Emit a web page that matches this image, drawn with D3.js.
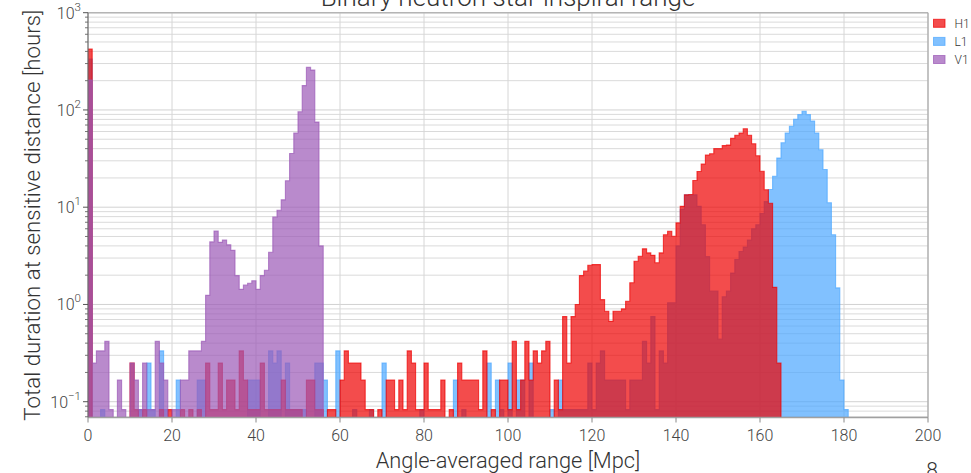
<!DOCTYPE html>
<html>
<head>
<meta charset="utf-8">
<script src="https://cdn.jsdelivr.net/npm/d3@7/dist/d3.min.js"></script>
<style>
  html, body { margin: 0; padding: 0; background: #fff; }
  svg { display: block; }
  text { font-family: Roboto, "Open Sans", "DejaVu Sans", sans-serif; font-weight: 300; }
</style>
</head>
<body>
<svg id="chart" width="971" height="473"></svg>
<script>
// Histogram bins are 1 Mpc wide; value i covers [i, i+1) Mpc. Values in hours.
const binStart = 0;
const binWidth = 1;

const h1Hours = [
  423,0,0,0,0,0,0,0,0,0,
  0.25,0.083,0,0.083,0,0,0,0.083,0,0.083,
  0,0,0.083,0,0.083,0,0.083,0,0.25,0.083,
  0.083,0.25,0.083,0.167,0.167,0.083,0.333,0.167,0.083,0.083,
  0.083,0.25,0.083,0.083,0.083,0.083,0.167,0.083,0.083,0.083,
  0.083,0,0.167,0.167,0.083,0.083,0,0.083,0.083,0,
  0.167,0.333,0.25,0.25,0.25,0.167,0.083,0.083,0,0.083,
  0,0.167,0.167,0.083,0.167,0.083,0.333,0.25,0.083,0.083,
  0.25,0.083,0.083,0.083,0.167,0,0.083,0,0.25,0.167,
  0.167,0.167,0.167,0.083,0.333,0,0.083,0,0.167,0.167,
  0.083,0.417,0.083,0.167,0.417,0.167,0.333,0.25,0.333,0.417,
  0,0.167,0.083,0.75,0.25,0.75,1.0,1.98,2.2,2.53,
  2.57,2.57,1.12,0.85,0.67,0.85,0.85,0.9,1.08,1.67,
  2.78,3.13,3.73,3.39,3.2,2.68,3.39,5.2,5.66,5.03,
  6.9,10.2,13.4,13.5,18.8,23.3,27.8,34.4,35.5,40,
  40,43,43.5,51,55,58,64,55,45,33.8,
  23.4,15.1,11,1.5,0.25,0,0,0,0,0,
  0,0,0,0,0,0,0,0,0,0,
  0
];

const l1Hours = [
  333,0,0,0.083,0,0,0,0,0,0,
  0,0,0.083,0,0.25,0.083,0,0.333,0.083,0,
  0,0.167,0,0,0,0,0.167,0.167,0,0,
  0,0,0,0,0,0,0,0,0.167,0.167,
  0.167,0,0,0.333,0.25,0.333,0,0.25,0.083,0.083,
  0.083,0.083,0,0,0.25,0.25,0.167,0,0,0.333,
  0,0,0,0.083,0,0,0,0.083,0,0,
  0.25,0,0,0,0,0,0,0,0,0.083,
  0,0,0,0,0,0,0,0.167,0,0.083,
  0,0,0,0,0,0.25,0,0.167,0.083,0,
  0.25,0,0.167,0.167,0,0.25,0,0,0,0,
  0.083,0,0.167,0.083,0.083,0.083,0.083,0.083,0.083,0.25,
  0.083,0.25,0.333,0.167,0.167,0.167,0.167,0.167,0.083,0.167,
  0.167,0.167,0.417,0.25,0.75,0.083,0.333,0.25,1.04,1.04,
  4.0,9.5,13.4,13.4,13.4,10.2,6.6,3.1,1.37,1.37,
  0.44,1.2,1.37,2.1,2.9,3.5,3.9,4.6,6.0,6.6,
  8.6,11.4,15.2,20.8,32,46,58,68,80,89.5,
  97,89.5,77,58,39,24.4,11.1,5.2,1.48,0.167,
  0.083
];

const v1Hours = [
  203,0.25,0.333,0.333,0.417,0.083,0,0.167,0.083,0,
  0.25,0.167,0.083,0.25,0.083,0.083,0.417,0.25,0.167,0,
  0.083,0.083,0.167,0.167,0.333,0.333,0.333,0.417,1.24,4.4,
  5.7,4.35,4.6,4.1,3.6,1.98,1.43,1.58,1.65,1.75,
  1.43,1.98,2.25,3.44,7.9,9.3,11.9,18.7,35.6,58,
  96,178,274,257,75,4.0
];

const detectors = ["H1", "L1", "V1"];
const detectorColors = { H1: "#ee0000", L1: "#4ba6ff", V1: "#9b59b6" };
const seriesByDetector = { H1: h1Hours, L1: l1Hours, V1: v1Hours };
const drawOrder = ["L1", "H1", "V1"];

const xTicks = [0, 20, 40, 60, 80, 100, 120, 140, 160, 180, 200];
const yTicks = [0.1, 1, 10, 100, 1000];
const yTickExponents = ["\u22121", "0", "1", "2", "3"];

const titleText = "Binary neutron star inspiral range";
const xLabel = "Angle-averaged range [Mpc]";
const yLabel = "Total duration at sensitive distance [hours]";
const pageNumber = "8";

// ---- layout ----
const plot = { left: 88, right: 928, top: 12.7, bottom: 417.5 };
const fillAlpha = 0.7;

const svg = d3.select("#chart");

const x = d3.scaleLinear().domain([0, 200]).range([plot.left, plot.right]);
const y = d3.scaleLog().domain([0.0688, 1000]).range([plot.bottom, plot.top]);

// minor log ticks (2..9 x 10^n) inside the domain
const minorTicks = [];
for (let e = -2; e <= 2; e++) {
  for (let m = 2; m <= 9; m++) {
    const v = m * Math.pow(10, e);
    if (v >= y.domain()[0] && v <= y.domain()[1]) minorTicks.push(v);
  }
}

svg.append("defs").append("clipPath").attr("id", "plotClip")
  .append("rect")
  .attr("x", plot.left).attr("y", plot.top)
  .attr("width", plot.right - plot.left).attr("height", plot.bottom - plot.top);

// ---- grid ----
const grid = svg.append("g").attr("stroke", "#dadada").attr("stroke-width", 1).attr("fill", "none");
grid.selectAll(".hmin").data(minorTicks).join("line")
  .attr("x1", plot.left).attr("x2", plot.right)
  .attr("y1", d => y(d)).attr("y2", d => y(d));
grid.selectAll(".hmaj").data(yTicks).join("line")
  .attr("x1", plot.left).attr("x2", plot.right)
  .attr("y1", d => y(d)).attr("y2", d => y(d))
  .attr("stroke", "#d2d2d2");
grid.selectAll(".vmaj").data(xTicks).join("line")
  .attr("y1", plot.top).attr("y2", plot.bottom)
  .attr("x1", d => x(d)).attr("x2", d => x(d))
  .attr("stroke", "#d6d6d6");

// ---- histograms (step-filled) ----
function stepPoints(values) {
  const floorY = plot.bottom + 30;
  const pts = [[x(binStart), floorY]];
  values.forEach((v, i) => {
    const x0 = x(binStart + i * binWidth);
    const x1 = x(binStart + (i + 1) * binWidth);
    const yy = v > 0 ? y(v) : floorY;
    pts.push([x0, yy], [x1, yy]);
  });
  pts.push([x(binStart + values.length * binWidth), floorY]);
  return pts;
}
const line = d3.line();

const hist = svg.append("g").attr("clip-path", "url(#plotClip)");
drawOrder.forEach(det => {
  const c = detectorColors[det];
  hist.append("path")
    .attr("d", line(stepPoints(seriesByDetector[det])) + "Z")
    .attr("fill", c).attr("fill-opacity", fillAlpha)
    .attr("stroke", c).attr("stroke-opacity", fillAlpha)
    .attr("stroke-width", 1.1)
    .attr("stroke-linejoin", "miter");
});

// ---- spines ----
const spines = svg.append("g").attr("fill", "none");
spines.append("line").attr("x1", plot.left).attr("x2", plot.right)
  .attr("y1", plot.top).attr("y2", plot.top).attr("stroke", "#b5b5b5").attr("stroke-width", 1.5);
spines.append("line").attr("x1", plot.right).attr("x2", plot.right)
  .attr("y1", plot.top).attr("y2", plot.bottom).attr("stroke", "#a8a8a8").attr("stroke-width", 1.2);
spines.append("line").attr("x1", plot.left).attr("x2", plot.right)
  .attr("y1", plot.bottom).attr("y2", plot.bottom).attr("stroke", "#a0a0a0").attr("stroke-width", 1.3);
spines.append("line").attr("x1", plot.left).attr("x2", plot.left)
  .attr("y1", plot.top).attr("y2", plot.bottom).attr("stroke", "#707070").attr("stroke-width", 1.2);

// ---- x axis ----
const xAxis = svg.append("g");
xAxis.selectAll("line").data(xTicks).join("line")
  .attr("x1", d => x(d)).attr("x2", d => x(d))
  .attr("y1", plot.bottom).attr("y2", plot.bottom + 5)
  .attr("stroke", "#888").attr("stroke-width", 1);
xAxis.selectAll("text").data(xTicks).join("text")
  .attr("x", d => x(d)).attr("y", 441)
  .attr("text-anchor", "middle")
  .attr("font-size", 16).attr("fill", "#444")
  .text(d => d);

// ---- y axis ----
const yAxis = svg.append("g");
yAxis.selectAll(".minor").data(minorTicks).join("line")
  .attr("x1", plot.left - 3).attr("x2", plot.left)
  .attr("y1", d => y(d)).attr("y2", d => y(d))
  .attr("stroke", "#666").attr("stroke-width", 0.9);
yAxis.selectAll(".major").data(yTicks).join("line")
  .attr("x1", plot.left - 5).attr("x2", plot.left)
  .attr("y1", d => y(d)).attr("y2", d => y(d))
  .attr("stroke", "#555").attr("stroke-width", 1);
const yLab = yAxis.selectAll("text").data(yTicks).join("text")
  .attr("x", plot.left - 7).attr("y", d => y(d) + 6)
  .attr("text-anchor", "end")
  .attr("font-size", 16).attr("fill", "#444");
yLab.append("tspan").text("10");
yLab.append("tspan")
  .attr("dy", -8).attr("font-size", 11.5)
  .text((d, i) => yTickExponents[i]);

// ---- labels ----
svg.append("text")
  .attr("x", (plot.left + plot.right) / 2).attr("y", 468)
  .attr("text-anchor", "middle").attr("font-size", 21.8).attr("fill", "#333")
  .text(xLabel);

svg.append("text")
  .attr("transform", `translate(39.5,${(plot.top + plot.bottom) / 2}) rotate(-90)`)
  .attr("text-anchor", "middle").attr("font-size", 22.3).attr("fill", "#333")
  .text(yLabel);

svg.append("text")
  .attr("x", (plot.left + plot.right) / 2).attr("y", 5.5)
  .attr("text-anchor", "middle").attr("font-size", 26).attr("fill", "#333")
  .text(titleText);

svg.append("text")
  .attr("x", 932).attr("y", 477)
  .attr("text-anchor", "middle").attr("font-size", 21).attr("fill", "#333")
  .text(pageNumber);

// ---- legend ----
const legend = svg.append("g");
detectors.forEach((det, i) => {
  const cy = 23.3 + i * 18.1;
  const c = detectorColors[det];
  legend.append("rect")
    .attr("x", 933.5).attr("y", cy - 4).attr("width", 11.5).attr("height", 8)
    .attr("fill", c).attr("fill-opacity", fillAlpha)
    .attr("stroke", c).attr("stroke-opacity", fillAlpha).attr("stroke-width", 1);
  legend.append("text")
    .attr("x", 954.5).attr("y", cy + 4.3)
    .attr("font-size", 12).attr("fill", "#333")
    .text(det);
});
</script>
</body>
</html>
